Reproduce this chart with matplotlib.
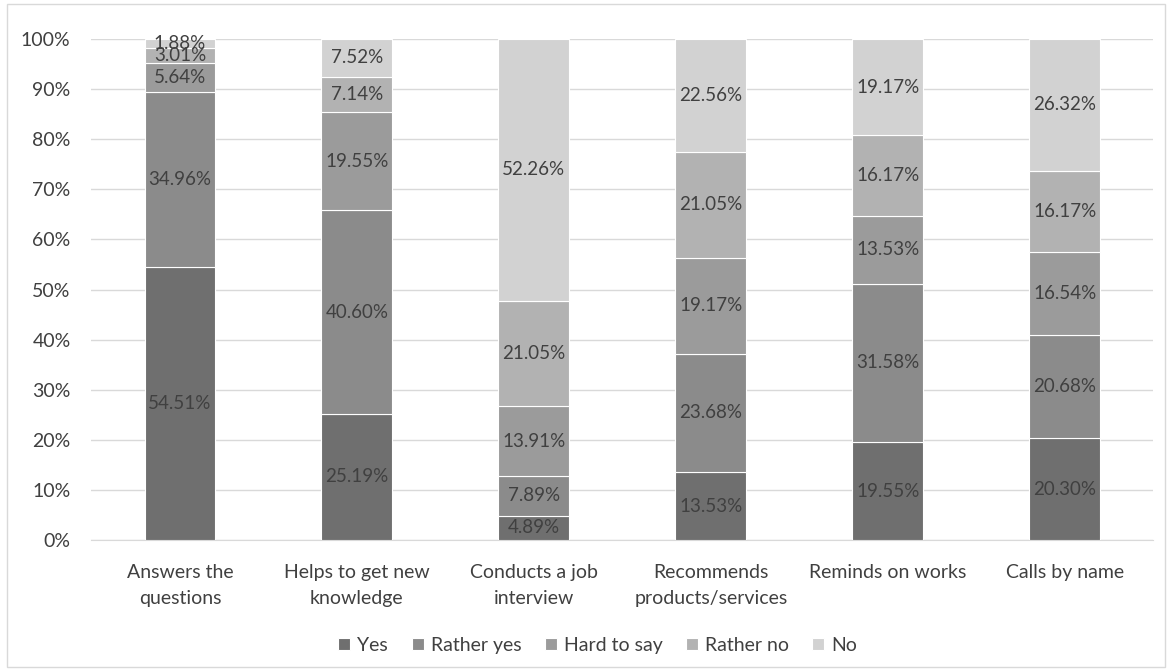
import matplotlib.pyplot as plt
import numpy as np
from matplotlib.ticker import PercentFormatter

plt.rcParams['font.family'] = ['Lato', 'DejaVu Sans']

categorias = ["Answers the\nquestions", "Helps to get new\nknowledge", "Conducts a job\ninterview",
              "Recommends\nproducts/services", "Reminds on works", "Calls by name"]
series = ["Yes", "Rather yes", "Hard to say", "Rather no", "No"]
si = [54.51, 25.19, 4.89, 13.53, 19.55, 20.30]
bastante_si = [34.96, 40.60, 7.89, 23.68, 31.58, 20.68]
dificil = [5.64, 19.55, 13.91, 19.17, 13.53, 16.54]
bastante_no = [3.01, 7.14, 21.05, 21.05, 16.17, 16.17]
no = [1.88, 7.52, 52.26, 22.56, 19.17, 26.32]
colores = ["#6f6f6f", "#8b8b8b", "#9b9b9b", "#b2b2b2", "#d2d2d2"]

valores = [si, bastante_si, dificil, bastante_no, no]
texto = "#404040"
tam = 14

fig = plt.figure(figsize=(11.72, 6.71), dpi=100)
# borde de la figura
fig.patches.append(plt.Rectangle((0.006, 0.006), 0.988, 0.988, transform=fig.transFigure,
                                 fill=False, edgecolor="#d9d9d9", linewidth=1))
ax = fig.add_axes([0.078, 0.1952, 0.906, 0.7467])

x = np.arange(len(categorias))
base = np.zeros(len(categorias))
for nombre, vals, c in zip(series, valores, colores):
    vals = np.array(vals)
    ax.bar(x, vals, 0.4, bottom=base, color=c, label=nombre,
           edgecolor="white", linewidth=0.8, zorder=3)
    for xi, b, v in zip(x, base, vals):
        ax.text(xi, b + v / 2, f"{v:.2f}%", ha="center", va="center",
                fontsize=13.5, color=texto, zorder=4)
    base = base + vals

ax.set_ylim(0, 100)
ax.set_xlim(-0.5, len(categorias) - 0.5)
ax.set_yticks(np.arange(0, 101, 10))
ax.yaxis.set_major_formatter(PercentFormatter(decimals=0))
ax.set_xticks(x)
ax.set_xticklabels(categorias, linespacing=1.65)
ax.tick_params(axis="both", length=0, labelsize=tam, colors=texto)
ax.tick_params(axis="x", pad=17)
ax.tick_params(axis="y", pad=15)
ax.grid(axis="y", color="#d9d9d9", linewidth=1, zorder=0)
for s in ["top", "right", "left"]:
    ax.spines[s].set_visible(False)
ax.spines["bottom"].set_color("#d9d9d9")

fig.legend(loc="center", bbox_to_anchor=(0.51, 0.038), ncol=5, frameon=False,
           fontsize=tam, labelcolor=texto, handlelength=0.62, handleheight=0.62,
           handletextpad=0.36, columnspacing=1.2)

plt.savefig("out.png")
